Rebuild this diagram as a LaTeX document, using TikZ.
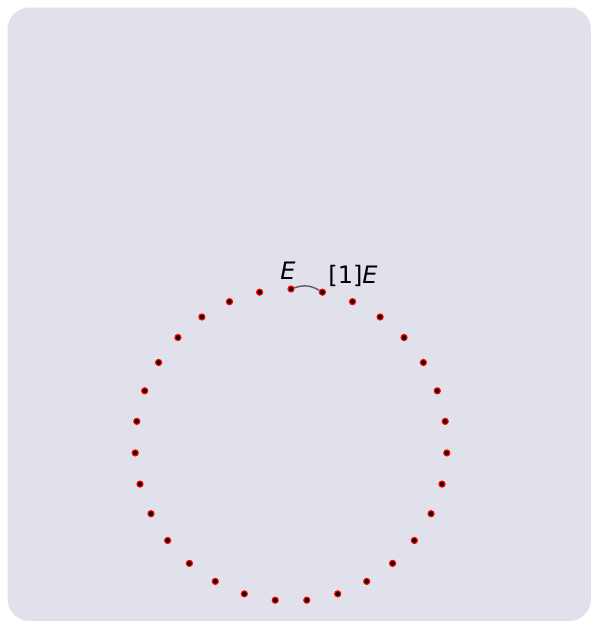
\documentclass[tikz,border=0pt]{standalone}
\usepackage{fontspec}
\setmainfont{DejaVu Sans}
\usepackage{tikz}
\usetikzlibrary{positioning}
\definecolor{PanelLilac}{HTML}{E1E1EB}
\definecolor{ArcGrey}{HTML}{5A5A64}

\begin{document}
\begin{tikzpicture}[
  x=1pt,y=-1pt,
  every node/.style={font=\fontsize{24}{28}\selectfont},
  dot/.style={circle,fill=black,draw=red,line width=1.2pt,minimum size=6pt,inner sep=0pt},
  tag/.style={anchor=base,inner sep=0pt},
  hop/.style={draw=ArcGrey,line width=1.4pt}
]
  \useasboundingbox (0,0) rectangle (591,621);
  \fill[PanelLilac,rounded corners=22pt] (7.5,7.5) rectangle (591,621);

  % 31 points on the ring
  \foreach \i in {0,...,30}
    \node[dot] (d\i) at ({291+156*cos(-90+\i*360/31)},{445+156*sin(-90+\i*360/31)}) {};

  \draw[hop] (d0) to[bend left=25] (d1);

  \node[tag] (lE) at (288,279) {\textit{E}};
  \node[tag] (lshift) at (353,283) {[1]\textit{E}};
\end{tikzpicture}
\end{document}
